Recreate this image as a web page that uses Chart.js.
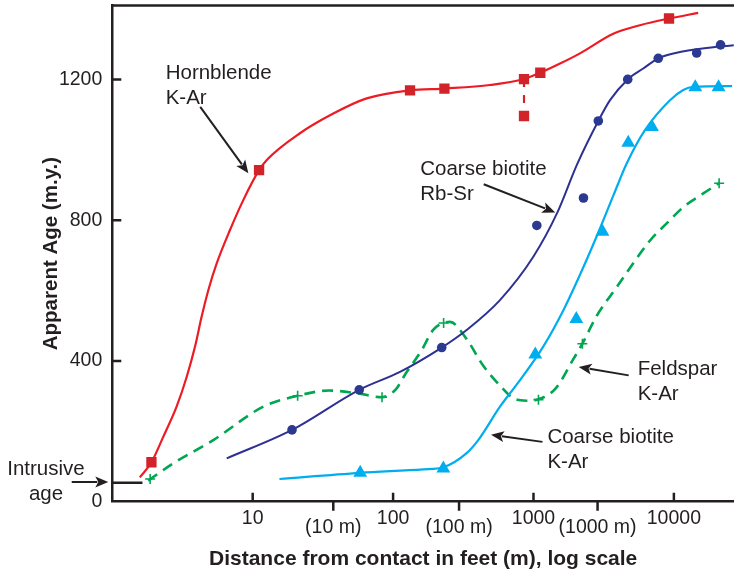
<!DOCTYPE html>
<html lang="en">
<head>
<meta charset="UTF-8">
<title>Apparent age vs distance from contact</title>
<script src="https://cdn.jsdelivr.net/npm/chart.js@4"></script>
<style>
  body { margin: 0; background: #fff; }
  #wrap { width: 734px; height: 576px; position: relative; }
</style>
</head>
<body>
<div id="wrap"><canvas id="ageChart"></canvas></div>
<script>
// values: x = distance from contact (feet), y = apparent age (m.y.)

// Hornblende K-Ar
const hornblendeX = [1.9, 11.1, 132, 232, 856, 1118, 9230];
const hornblendeY = [112, 942, 1169, 1174, 1201, 1219, 1373];
const hornblendeLowX = [856];
const hornblendeLowY = [1096];
const hornblendeCurveX = [1.57, 1.9, 2.31, 2.87, 3.39, 3.88, 4.33, 4.83, 5.54, 6.89, 8.57, 11.1, 12.6, 21.7, 37.5, 64.8, 132, 232, 490, 856, 1118, 1546, 2143, 3700, 5730, 9230, 14900];
const hornblendeCurveY = [69, 112, 185, 270, 355, 440, 526, 601, 677, 772, 857, 942, 971, 1047, 1103, 1146, 1169, 1174, 1184, 1201, 1219, 1245, 1274, 1330, 1354, 1373, 1389];

// Coarse biotite Rb-Sr
const rbsrX = [19.05, 57.4, 222, 1056, 2270, 2896, 4690, 7740, 14530, 21500];
const rbsrY = [204, 318, 438, 785, 863, 1082, 1200, 1260, 1275, 1298];
const rbsrCurveX = [6.53, 19.05, 57.4, 112, 222, 334, 577, 997, 1480, 2040, 2896, 3510, 4690, 6050, 7740, 10470, 16000, 26700];
const rbsrCurveY = [123, 204, 318, 369, 438, 488, 573, 696, 822, 958, 1082, 1141, 1200, 1231, 1260, 1276, 1288, 1297];

// Coarse biotite K-Ar
const biotiteKArX = [58.3, 228, 1030, 2018, 3100, 4730, 6980, 14200, 20800];
const biotiteKArY = [82, 94, 418, 519, 767, 1020, 1065, 1178, 1178];
const biotiteCurveX = [15.5, 58.3, 164, 228, 334, 404, 577, 770, 1170, 1660, 2252, 3000, 3714, 4610, 6220, 9380, 11660, 13700, 26000];
const biotiteCurveY = [64.5, 82, 92, 98, 138, 175, 270, 336, 440, 550, 664, 780, 871, 961, 1056, 1141, 1170, 1179, 1181];

// Feldspar K-Ar
const feldsparX = [1.86, 20.9, 83.4, 229, 1085, 2230, 21000];
const feldsparY = [64.5, 301, 297, 508, 290, 449, 905];
const feldsparCurveX = [1.8, 2.72, 5.24, 11.9, 20.9, 35, 57.4, 83.4, 105, 122, 160, 193, 254, 334, 439, 577, 718, 895, 1085, 1440, 1922, 2230, 2820, 3935, 6790, 8890, 11750, 16200, 21000];
const feldsparCurveY = [60, 109, 175, 270, 301, 316, 307, 297, 320, 362, 431, 488, 511, 462, 386, 330, 294, 287, 291, 322, 405, 449, 528, 611, 743, 791, 838, 876, 905];

// intrusive age marker
const intrusiveX = [1, 1.64];
const intrusiveY = [54, 54];

// axis ticks
const xMainTicks = [10, 100, 1000, 10000];
const xMetricTicks = [37.5, 295, 2860];
const xMetricLabels = ['(10 m)', '(100 m)', '(1000 m)'];
const yTicks = [0, 400, 800, 1200];

const FONT = '"Liberation Sans", Arial, Helvetica, sans-serif';
const INK = '#231F20';
const RED = '#ED1C24', RED_PT = '#D2232A';
const NAVY = '#2E3192', NAVY_PT = '#2B3990';
const CYAN = '#00AEEF';
const GREEN = '#00A651';

const pts = (xs, ys) => xs.map((x, i) => ({ x: x, y: ys[i] }));

// call-outs (positions in data units)
const notes = [
  { lines: ['Hornblende', 'K-Ar'], x: 2.4, y: 1201, align: 'left' },
  { lines: ['Coarse biotite', 'Rb-Sr'], x: 156, y: 928, align: 'left' },
  { lines: ['Feldspar', 'K-Ar'], x: 5520, y: 359, align: 'left' },
  { lines: ['Coarse biotite', 'K-Ar'], x: 1256, y: 167, align: 'left' },
  { lines: ['Intrusive', 'age'], x: 0.337, y: 75, align: 'center' }
];
const arrows = [
  { from: [4.23, 1122], to: [9.31, 933] },
  { from: [442, 902], to: [1429, 822] },
  { from: [4765, 359], to: [2099, 383] },
  { from: [1159, 170], to: [498, 190] },
  { from: [0.514, 56], to: [0.936, 56] }
];

const extras = {
  id: 'extras',
  afterDraw(chart) {
    const { ctx, chartArea: a, scales: { x, y } } = chart;
    ctx.save();
    ctx.strokeStyle = INK;
    ctx.lineWidth = 2.5;

    // top frame line
    ctx.beginPath();
    ctx.moveTo(a.left - 1.2, a.top);
    ctx.lineTo(a.right, a.top);
    ctx.stroke();

    // tick marks: decades point up, metric ticks point down, y ticks point right
    ctx.beginPath();
    xMainTicks.forEach(v => {
      const px = x.getPixelForValue(v);
      ctx.moveTo(px, a.bottom);
      ctx.lineTo(px, a.bottom - 9);
    });
    xMetricTicks.forEach(v => {
      const px = x.getPixelForValue(v);
      ctx.moveTo(px, a.bottom);
      ctx.lineTo(px, a.bottom + 9);
    });
    yTicks.filter(v => v > 0).forEach(v => {
      const py = y.getPixelForValue(v);
      ctx.moveTo(a.left, py);
      ctx.lineTo(a.left + 9, py);
    });
    ctx.stroke();

    // arrows
    ctx.fillStyle = INK;
    ctx.lineWidth = 2;
    arrows.forEach(ar => {
      const x1 = x.getPixelForValue(ar.from[0]), y1 = y.getPixelForValue(ar.from[1]);
      const x2 = x.getPixelForValue(ar.to[0]), y2 = y.getPixelForValue(ar.to[1]);
      const ang = Math.atan2(y2 - y1, x2 - x1);
      const len = 13, hw = 5.5;
      const bx = x2 - Math.cos(ang) * len, by = y2 - Math.sin(ang) * len;
      ctx.beginPath();
      ctx.moveTo(x1, y1);
      ctx.lineTo(bx + Math.cos(ang) * 2, by + Math.sin(ang) * 2);
      ctx.stroke();
      ctx.beginPath();
      ctx.moveTo(x2, y2);
      ctx.lineTo(bx - Math.sin(ang) * hw, by + Math.cos(ang) * hw);
      ctx.lineTo(bx + Math.cos(ang) * 3, by + Math.sin(ang) * 3);
      ctx.lineTo(bx + Math.sin(ang) * hw, by - Math.cos(ang) * hw);
      ctx.closePath();
      ctx.fill();
    });

    // call-out text
    ctx.font = '20.5px ' + FONT;
    ctx.textBaseline = 'alphabetic';
    notes.forEach(n => {
      const px = x.getPixelForValue(n.x), py = y.getPixelForValue(n.y);
      ctx.textAlign = n.align;
      n.lines.forEach((t, i) => ctx.fillText(t, px, py + i * 25));
    });
    ctx.restore();
  }
};

const curve = (xs, ys, color, extra) => Object.assign({
  data: pts(xs, ys),
  showLine: true,
  borderColor: color,
  borderWidth: 2.2,
  pointRadius: 0,
  cubicInterpolationMode: 'monotone',
  fill: false,
  order: 2
}, extra || {});

const markers = (xs, ys, style, radius, color, extra) => Object.assign({
  data: pts(xs, ys),
  showLine: false,
  pointStyle: style,
  pointRadius: radius,
  backgroundColor: color,
  borderColor: color,
  borderWidth: 0,
  order: 1
}, extra || {});

new Chart(document.getElementById('ageChart'), {
  type: 'scatter',
  data: {
    datasets: [
      curve(hornblendeCurveX, hornblendeCurveY, RED),
      curve([hornblendeX[4], hornblendeLowX[0]], [hornblendeY[4], hornblendeLowY[0]], RED_PT,
        { borderDash: [8, 8], cubicInterpolationMode: 'default', tension: 0 }),
      curve(rbsrCurveX, rbsrCurveY, NAVY, { borderWidth: 2 }),
      curve(biotiteCurveX, biotiteCurveY, CYAN),
      curve(feldsparCurveX, feldsparCurveY, GREEN, { borderWidth: 2.6, borderDash: [11, 7] }),
      curve(intrusiveX, intrusiveY, INK, { borderWidth: 2.5, cubicInterpolationMode: 'default', tension: 0 }),
      markers(hornblendeX, hornblendeY, 'rect', 7.3, RED_PT),
      markers(hornblendeLowX, hornblendeLowY, 'rect', 7.3, RED_PT),
      markers(rbsrX, rbsrY, 'circle', 4.8, NAVY_PT),
      markers(biotiteKArX, biotiteKArY, 'triangle', 8, CYAN),
      markers(feldsparX, feldsparY, 'cross', 5, GREEN, { borderWidth: 1.6 })
    ]
  },
  options: {
    responsive: true,
    maintainAspectRatio: false,
    animation: false,
    layout: { autoPadding: false, padding: { top: 5.5, right: 0, bottom: 0, left: 0 } },
    plugins: {
      legend: { display: false },
      tooltip: { enabled: false }
    },
    scales: {
      x: {
        type: 'logarithmic',
        position: 'bottom',
        min: 1,
        max: 26800,
        afterBuildTicks: s => {
          s.ticks = xMainTicks.concat(xMetricTicks).sort((a, b) => a - b).map(v => ({ value: v }));
        },
        afterFit: s => { s.height = 74.3; s.paddingLeft = 0; s.paddingRight = 0; },
        grid: { display: false, drawTicks: false },
        border: { display: true, color: INK, width: 2.5 },
        ticks: {
          autoSkip: false,
          maxRotation: 0,
          minRotation: 0,
          padding: 12.3,
          color: INK,
          font: { family: FONT, size: 19.5, lineHeight: '9px' },
          callback: v => {
            const k = xMetricTicks.indexOf(v);
            return k >= 0 ? ['', xMetricLabels[k]] : String(v);
          }
        },
        title: {
          display: true,
          text: 'Distance from contact in feet (m), log scale',
          color: INK,
          font: { family: FONT, size: 21, weight: 'bold', lineHeight: 1.2 },
          padding: { top: 0, bottom: 4.6 }
        }
      },
      y: {
        type: 'linear',
        min: 0,
        max: 1410,
        afterBuildTicks: s => { s.ticks = yTicks.map(v => ({ value: v })); },
        afterFit: s => { s.width = 112.3; s.paddingTop = 0; s.paddingBottom = 0; },
        grid: { display: false, drawTicks: false },
        border: { display: true, color: INK, width: 2.5 },
        ticks: {
          padding: 10,
          color: INK,
          font: { family: FONT, size: 19.5 },
          callback: v => String(v)
        },
        title: {
          display: true,
          text: 'Apparent Age (m.y.)',
          color: INK,
          font: { family: FONT, size: 20.5, weight: 'bold', lineHeight: 1.2 },
          padding: { top: 39.5, bottom: 0 }
        }
      }
    }
  },
  plugins: [extras]
});
</script>
</body>
</html>
